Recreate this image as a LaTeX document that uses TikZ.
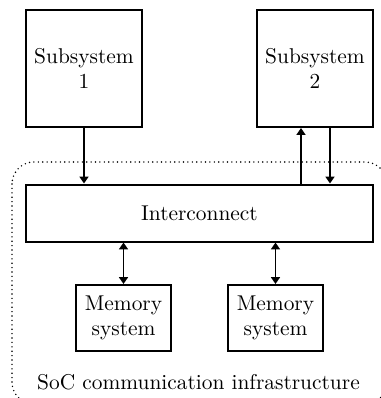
\documentclass[tikz,border=0pt]{standalone}
\usetikzlibrary{arrows.meta,calc}
\begin{document}
\begin{tikzpicture}[x=0.5pt,y=-0.5pt,
  every node/.style={font=\fontsize{10.7}{12.5}\selectfont},
  block/.style={draw,line width=1pt,align=center,inner sep=0pt},
  subsys/.style={block,minimum width=58pt,minimum height=58.5pt},
  memblock/.style={block,minimum width=47.5pt,minimum height=33pt},
  tip/.style={Triangle[length=3.4pt,width=4.4pt]},
  link/.style={line width=0.95pt,-{Triangle[length=3.4pt,width=4.4pt]}},
  biglink/.style={line width=0.95pt,{Triangle[length=3.4pt,width=4.4pt]}-{Triangle[length=3.4pt,width=4.4pt]}}]
  % page area
  \clip (0,0) rectangle (381,398);

  % communication infrastructure boundary
  \draw[line width=0.8pt,line cap=round,dash pattern=on 0pt off 2.2pt,rounded corners=11pt]
    (12,162) rectangle (387,404);

  % blocks
  \node[subsys] (s1) at (84,68.5) {Subsystem\\1};
  \node[subsys] (s2) at (315,68.5) {Subsystem\\2};
  \node[block,minimum width=173.5pt,minimum height=28.5pt] (ic) at (199.5,213) {Interconnect};
  \node[memblock] (m1) at (123.5,318) {Memory\\system};
  \node[memblock] (m2) at (275.5,318) {Memory\\system};
  \node (lbl) at (198.5,382) {SoC communication infrastructure};

  % connections
  \draw[link] (s1.south) -- (s1.south |- ic.north);
  \coordinate (s2up) at ([xshift=-7pt]s2.south);
  \coordinate (s2dn) at ([xshift=7.5pt]s2.south);
  \draw[link] (s2up |- ic.north) -- (s2up);
  \draw[link] (s2dn) -- (s2dn |- ic.north);
  \draw[biglink] (m1.north |- ic.south) -- (m1.north);
  \draw[biglink] (m2.north |- ic.south) -- (m2.north);
\end{tikzpicture}
\end{document}
